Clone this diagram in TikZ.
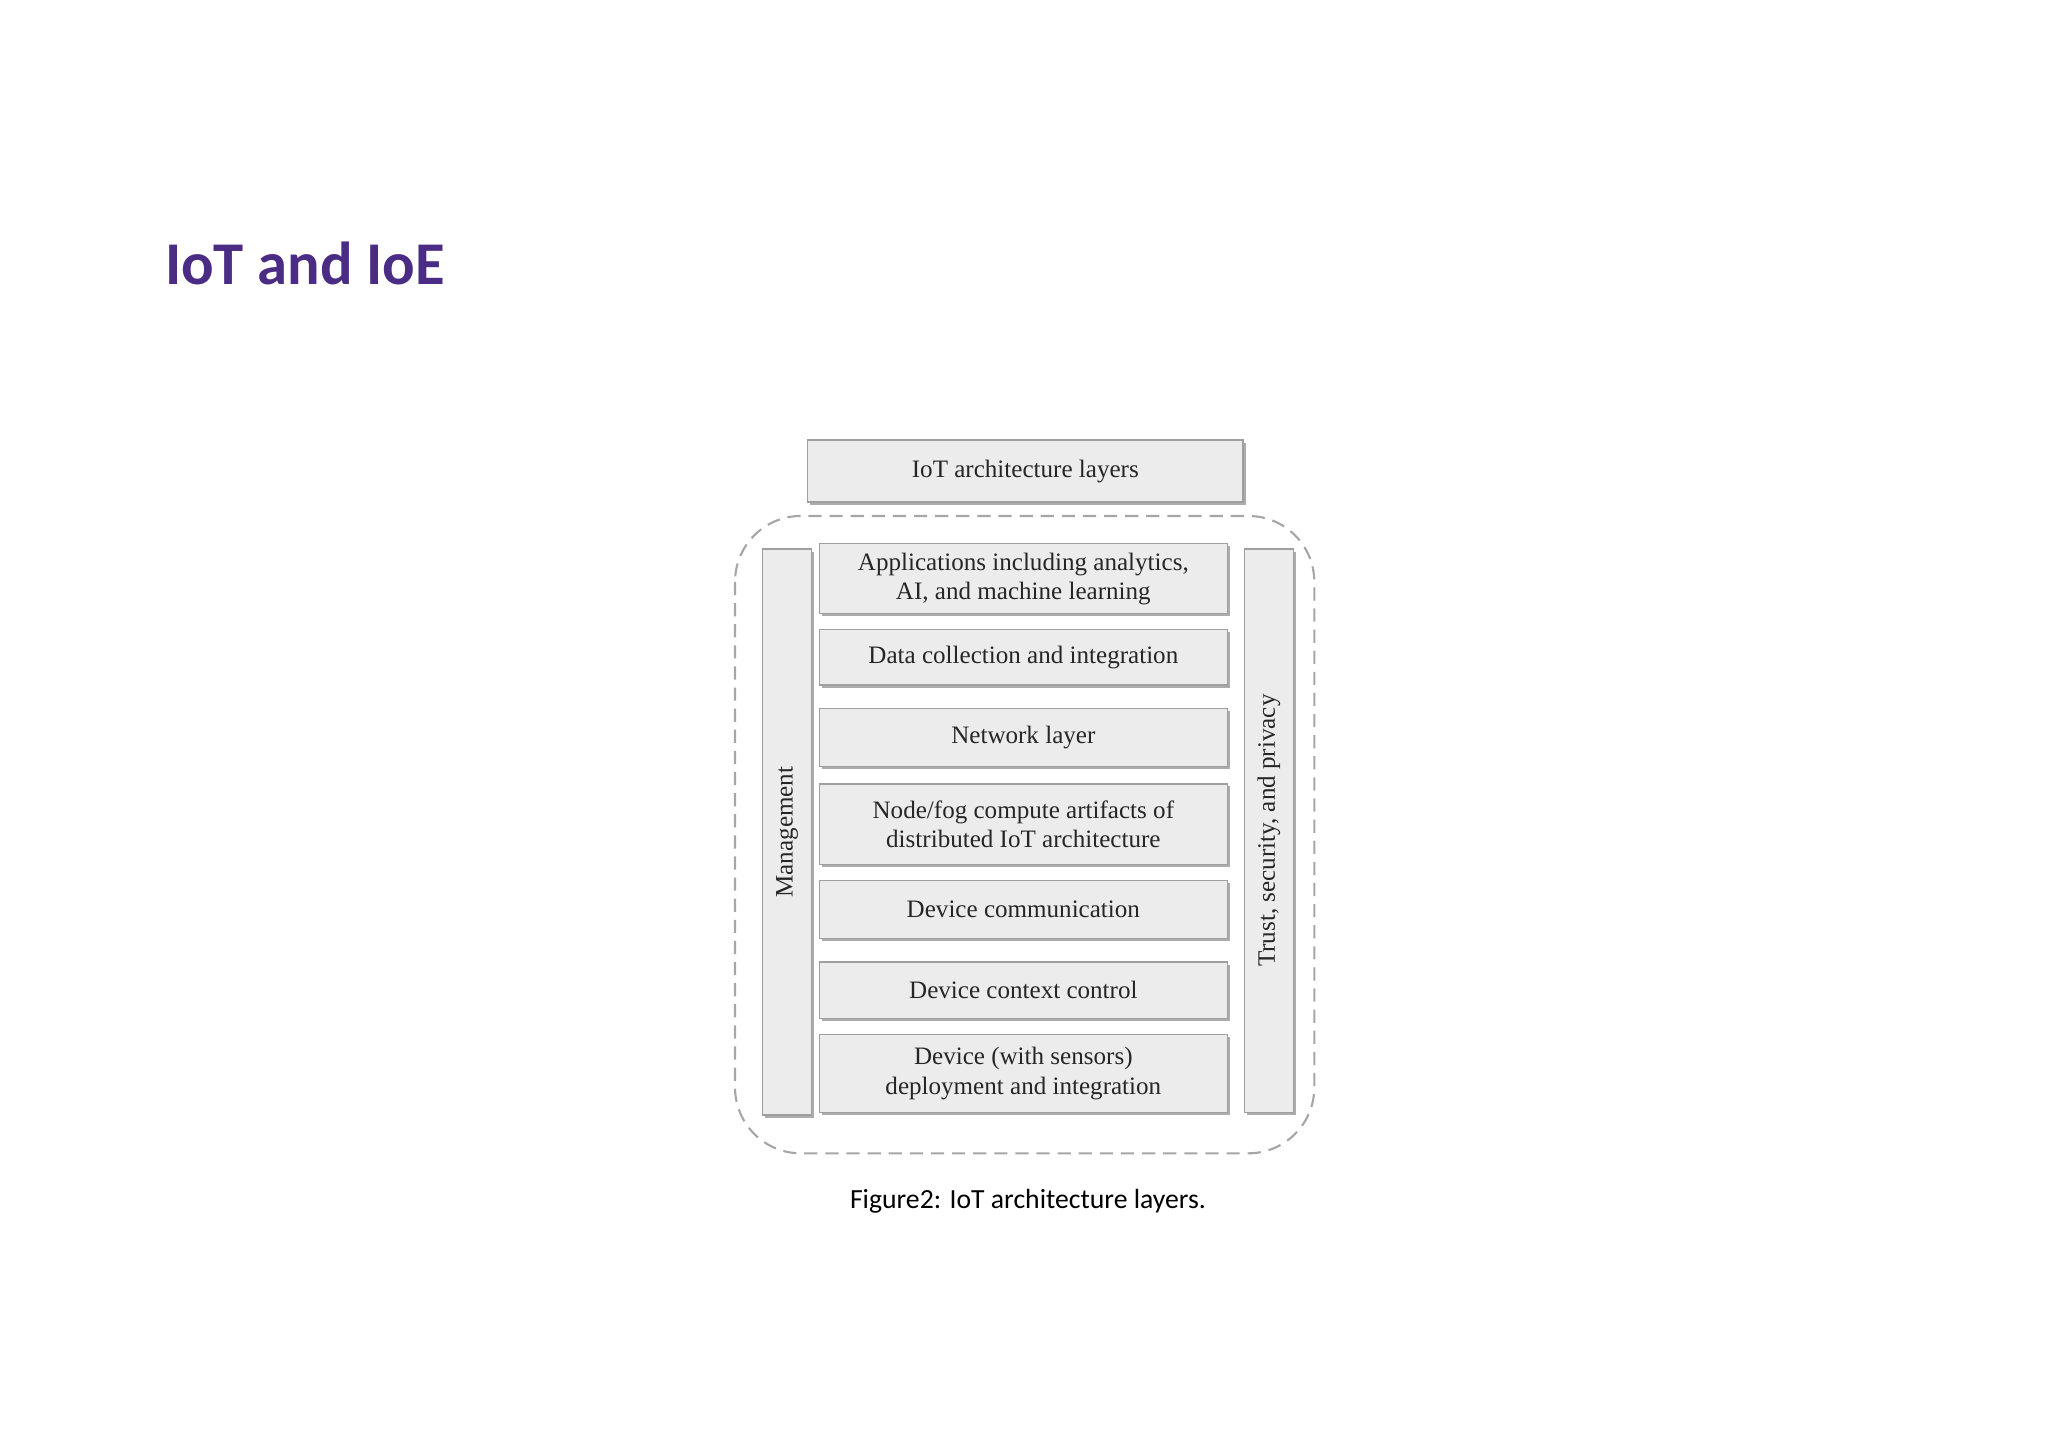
\documentclass[tikz,border=0pt]{standalone}
\usepackage{fontspec}
\setmainfont{Liberation Serif}
\newfontfamily\calfont{Carlito}
\usetikzlibrary{shadows}
\definecolor{ttl}{HTML}{4B2C84}
\tikzset{
 lay/.style={draw=gray!75, fill=gray!15, line width=0.5pt, inner sep=0pt, align=center,
   font=\fontsize{9.5}{11}\selectfont, text=black!85,
   drop shadow={shadow xshift=1pt, shadow yshift=-1pt, fill=gray!65, opacity=1}},
}
\begin{document}
\begin{tikzpicture}[x=0.5pt,y=-0.5pt]
\useasboundingbox (0,0) rectangle (1552,1097);
\node[anchor=west, font=\calfont\bfseries\fontsize{23}{26}\selectfont, text=ttl] (title) at (118,200) {IoT and IoE};
\node[lay, minimum width=165pt, minimum height=23.5pt] (hdr) at (777,357) {IoT architecture layers};
\draw[dashed, dash pattern=on 5pt off 3pt, gray!70, line width=0.8pt, rounded corners=25pt] (557,391) rectangle (996,874);
\node[lay, minimum width=18.5pt, minimum height=214.5pt] (mg) at (596.5,630.5) {};
\node[rotate=90, font=\fontsize{9.5}{11}\selectfont, text=black!85] (mgt) at (mg) {Management};
\node[lay, minimum width=18.5pt, minimum height=213.5pt] (tr) at (961.5,629.5) {};
\node[rotate=90, font=\fontsize{9.5}{11}\selectfont, text=black!85] (trt) at (tr) {Trust, security, and privacy};
\foreach \n/\yc/\h/\t in {
 l1/438.5/26.5/{Applications including analytics,\\AI, and machine learning},
 l2/498/21/{Data collection and integration},
 l3/559/22/{Network layer},
 l4/624.5/30.5/{Node/fog compute artifacts of\\distributed IoT architecture},
 l5/689/22/{Device communication},
 l6/750.5/21.5/{Device context control},
 l7/813.5/29.5/{Device (with sensors)\\deployment and integration}}
 {\node[lay, minimum width=154.5pt, minimum height=\h pt] (\n) at (775.5,\yc) {\t};}
\node[font=\calfont\fontsize{10.5}{12}\selectfont] (cap) at (779,910) {Figure2: IoT architecture layers.};
\end{tikzpicture}
\end{document}
